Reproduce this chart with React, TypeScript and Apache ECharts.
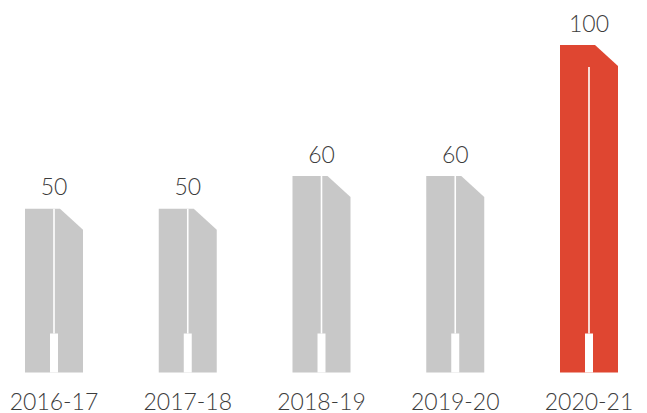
import React, { useEffect, useRef } from "react";
import * as echarts from "echarts";

const categories = ["2016-17", "2017-18", "2018-19", "2019-20", "2020-21"];
const values = [50, 50, 60, 60, 100];
const highlighted = [false, false, false, false, true];

const GREY = "#c8c8c8";
const RED = "#df4631";
const TEXT = "#3c3c3c";
const FONT = "Lato";

function renderItem(params: any, api: any) {
  const idx = api.value(0);
  const v = api.value(1);
  const hi = api.value(2) === 1;
  const top = api.coord([idx, v]);
  const base = api.coord([idx, 0]);
  const cx = top[0];
  const w = 58;
  const x0 = cx - w / 2;
  const yT = top[1];
  const yB = base[1];
  const color = hi ? RED : GREY;
  const doorTop = yB - 39;
  const lineStart = hi ? yT + 22 : yT;
  return {
    type: "group",
    children: [
      {
        type: "polygon",
        shape: {
          points: [
            [x0, yT],
            [x0 + 35, yT],
            [x0 + w, yT + 21],
            [x0 + w, yB],
            [x0, yB],
          ],
        },
        style: { fill: color },
      },
      {
        type: "rect",
        shape: { x: cx - 0.8, y: lineStart, width: 1.6, height: doorTop - lineStart },
        style: { fill: "#ffffff" },
      },
      {
        type: "rect",
        shape: { x: cx - 4, y: doorTop, width: 8, height: yB - doorTop },
        style: { fill: "#ffffff" },
      },
      {
        type: "text",
        x: cx,
        y: yT - 11,
        style: {
          text: String(v),
          fill: TEXT,
          font: `300 23px ${FONT}`,
          align: "center",
          verticalAlign: "bottom",
        },
      },
    ],
  };
}

export default function App() {
  const ref = useRef<HTMLDivElement>(null);
  useEffect(() => {
    if (!ref.current) return;
    const chart = echarts.init(ref.current, null, { renderer: "svg" });
    chart.setOption({
      animation: false,
      grid: { left: 54, right: 58, top: 45, bottom: 40.5 },
      xAxis: {
        type: "category",
        data: categories,
        boundaryGap: false,
        axisLine: { show: false },
        axisTick: { show: false },
        axisLabel: {
          color: TEXT,
          fontSize: 23,
          fontFamily: FONT,
          fontWeight: 300,
          lineHeight: 18,
          margin: 19,
        },
      },
      yAxis: { type: "value", min: 0, max: 100, show: false, splitLine: { show: false } },
      series: [
        {
          type: "custom",
          renderItem,
          data: values.map((v, i) => [i, v, highlighted[i] ? 1 : 0]),
        },
      ],
    });
    return () => chart.dispose();
  }, []);
  return (
    <div
      ref={ref}
      style={{ position: "absolute", left: 0, top: 0, width: 647, height: 413 }}
    />
  );
}
